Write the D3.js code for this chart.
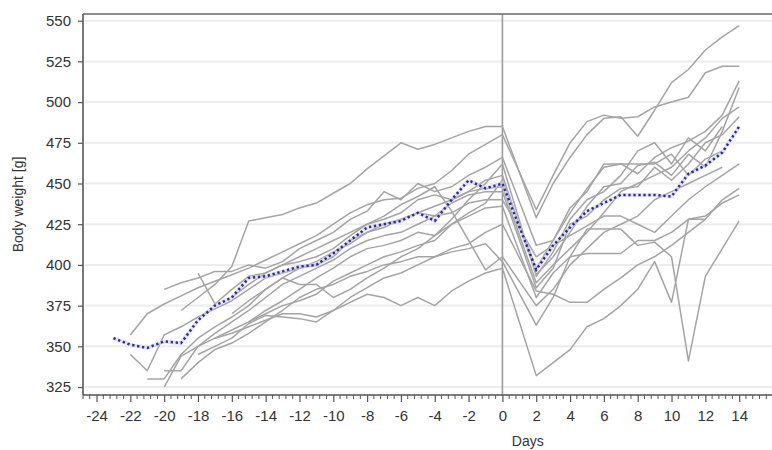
<!DOCTYPE html>
<html>
<head>
<meta charset="utf-8">
<script src="https://cdn.jsdelivr.net/npm/d3@7"></script>
<style>
  html, body { margin: 0; padding: 0; background: #fff; }
  svg { display: block; }
</style>
</head>
<body>
<svg id="chart" width="772" height="450"></svg>
<script>
// Individual body-weight curves (g) per animal: pre-operative days start..0, then post-operative days
const animalStartDays = [-19, -22, -20, -18, -22, -21, -20, -20, -19, -18, -17, -16, -15, -16];

const preWeights = [
  [372, 380, 388, 399, 427, 429, 431, 435, 438, 444, 450, 459, 467, 475, 471, 474, 478, 482, 485, 485],
  [357, 370, 376, 381, 386, 390, 394, 398, 403, 408, 413, 418, 425, 432, 437, 440, 441, 447, 450, 458, 468, 474, 480],
  [385, 389, 392, 396, 396, 400, 398, 402, 410, 415, 420, 428, 433, 445, 440, 450, 445, 448, 455, 460, 466],
  [395, 376, 385, 393, 395, 400, 405, 410, 415, 420, 425, 428, 432, 440, 443, 440, 445, 452, 455],
  [345, 335, 357, 362, 368, 373, 378, 385, 392, 395, 398, 402, 408, 413, 420, 425, 428, 432, 436, 440, 445, 447, 448],
  [330, 330, 345, 355, 362, 368, 375, 385, 392, 398, 400, 405, 415, 420, 423, 428, 432, 430, 438, 443, 445, 445],
  [335, 335, 350, 358, 365, 372, 380, 388, 393, 398, 403, 410, 415, 418, 420, 425, 430, 432, 438, 440, 440],
  [325, 344, 350, 355, 360, 365, 370, 375, 378, 382, 390, 395, 400, 405, 408, 412, 415, 425, 430, 435, 436],
  [330, 340, 348, 352, 358, 365, 372, 380, 385, 388, 393, 396, 400, 402, 405, 405, 410, 413, 420, 425],
  [345, 350, 355, 364, 369, 368, 367, 365, 372, 377, 382, 380, 375, 380, 375, 384, 390, 395, 398],
  [355, 358, 362, 366, 370, 370, 368, 372, 380, 386, 392, 395, 400, 405, 408, 410, 413, 402],
  [380, 388, 395, 400, 402, 405, 410, 418, 425, 430, 437, 442, 448, 433, 415, 397, 405],
  [365, 372, 378, 385, 392, 398, 405, 410, 412, 415, 420, 418, 425, 432, 438, 452],
  [370, 378, 385, 392, 388, 388, 380, 385, 392, 398, 405, 410, 418, 428, 440, 450, 462]
];

const postDays = [2, 3, 4, 5, 6, 7, 8, 9, 10, 11, 12, 13, 14];

const postWeights = [
  [429, 450, 466, 480, 490, 491, 479, 495, 512, 520, 532, 540, 547],
  [434, 455, 475, 488, 492, 490, 491, 497, 500, 503, 518, 522, 522],
  [412, 415, 432, 447, 460, 462, 456, 466, 472, 476, 482, 492, 513],
  [394, 405, 420, 436, 448, 450, 461, 463, 455, 468, 460, 482, 509],
  [389, 400, 410, 420, 432, 445, 450, 455, 460, 470, 478, 490, 497],
  [386, 398, 425, 430, 440, 447, 448, 460, 452, 462, 475, 480, 491],
  [405, 412, 418, 424, 430, 430, 425, 420, 430, 440, 448, 455, 462],
  [380, 395, 405, 407, 407, 407, 415, 415, 420, 428, 428],
  [384, 382, 377, 377, 385, 392, 400, 405, 412, 420, 428, 440, 447],
  [332, 340, 348, 362, 367, 375, 385, 402, 377, 428, 430, 438, 443],
  [363, 380, 405, 422, 422, 422, 412, 414, 405, 341, 393, 410, 427],
  [375, 385, 400, 410, 420, 425, 430, 440, 445, 450, 455, 460],
  [398, 415, 435, 445, 462, 462, 462, 462, 468, 455, 465, 470],
  [393, 408, 428, 440, 445, 455, 470, 475, 462, 478, 470, 485]
];

// Group mean
const meanDays = [-23, -22, -21, -20, -19, -18, -17, -16, -15, -14, -13, -12, -11, -10, -9, -8, -7, -6, -5, -4, -3, -2, -1, 0,
                  2, 3, 4, 5, 6, 7, 8, 9, 10, 11, 12, 13, 14];
const meanWeights = [355, 351, 349, 353, 352, 366, 375, 380, 392, 393, 396, 399, 400, 407, 415, 423, 425, 427, 432, 427, 440, 452, 447, 450,
                     397, 412, 423, 433, 438, 443, 443, 443, 442, 456, 461, 469, 485];

const yTicks = [325, 350, 375, 400, 425, 450, 475, 500, 525, 550];
const xTicks = [-24, -22, -20, -18, -16, -14, -12, -10, -8, -6, -4, -2, 0, 2, 4, 6, 8, 10, 12, 14];

const svg = d3.select("#chart");
const plotLeft = 83, plotRight = 773, plotTop = 14, plotBottom = 395;
const font = "'Liberation Sans', Arial, sans-serif";

const x = d3.scaleLinear().domain([-24.8, 16]).range([plotLeft, plotRight]);
const y = d3.scaleLinear().domain([320.1, 554.1]).range([plotBottom, plotTop]);

// horizontal grid
svg.append("g")
  .selectAll("line")
  .data(yTicks)
  .join("line")
  .attr("x1", plotLeft + 2).attr("x2", plotRight)
  .attr("y1", d => y(d)).attr("y2", d => y(d))
  .attr("stroke", "#ececec")
  .attr("stroke-width", 2);

// surgery day reference
svg.append("line")
  .attr("x1", x(0)).attr("x2", x(0))
  .attr("y1", plotTop).attr("y2", plotBottom)
  .attr("stroke", "#9a9a9a")
  .attr("stroke-width", 1.6);

const line = d3.line().x(d => x(d[0])).y(d => y(d[1]));

const animals = preWeights.map((pre, i) => {
  const pts = pre.map((w, k) => [animalStartDays[i] + k, w]);
  postWeights[i].forEach((w, k) => pts.push([postDays[k], w]));
  return pts;
});

svg.append("g")
  .selectAll("path")
  .data(animals)
  .join("path")
  .attr("d", line)
  .attr("fill", "none")
  .attr("stroke", "#a4a4a4")
  .attr("stroke-width", 1.5)
  .attr("stroke-linejoin", "round");

// mean curve: soft underlay plus dotted line
const meanPts = meanDays.map((d, i) => [d, meanWeights[i]]);
svg.append("path")
  .attr("d", line(meanPts))
  .attr("fill", "none")
  .attr("stroke", "#cfcfee")
  .attr("stroke-width", 4)
  .attr("stroke-opacity", 0.55);
svg.append("path")
  .attr("d", line(meanPts))
  .attr("fill", "none")
  .attr("stroke", "#2c2c9c")
  .attr("stroke-width", 2.5)
  .attr("stroke-dasharray", "2.3,2.7");

// axes
const yAxis = d3.axisLeft(y).tickValues(yTicks).tickSize(5).tickPadding(7).tickFormat(d => String(d));
const gy = svg.append("g").attr("transform", `translate(${plotLeft},0)`).call(yAxis);
gy.select(".domain").remove();

const minor = d3.range(-24.8, 16.01, 0.4).map(v => +v.toFixed(1)).filter(v => Math.abs(v / 2 - Math.round(v / 2)) > 1e-6);
svg.append("g")
  .selectAll("line")
  .data(minor)
  .join("line")
  .attr("x1", d => x(d)).attr("x2", d => x(d))
  .attr("y1", plotBottom).attr("y2", plotBottom + 4)
  .attr("stroke", "#555").attr("stroke-width", 1);

const xAxis = d3.axisBottom(x).tickValues(xTicks).tickSize(7).tickPadding(8).tickFormat(d => String(d));
const gx = svg.append("g").attr("transform", `translate(0,${plotBottom})`).call(xAxis);
gx.select(".domain").remove();

[gx, gy].forEach(g => {
  g.selectAll(".tick line").attr("stroke", "#555").attr("stroke-width", 1.2);
  g.selectAll(".tick text")
    .attr("fill", "#333")
    .style("font-family", font)
    .style("font-size", "15px");
});

// frame lines
svg.append("line").attr("x1", plotLeft).attr("x2", plotLeft).attr("y1", plotTop).attr("y2", plotBottom)
  .attr("stroke", "#555").attr("stroke-width", 1.6);
svg.append("line").attr("x1", plotLeft).attr("x2", plotRight).attr("y1", plotTop).attr("y2", plotTop)
  .attr("stroke", "#666").attr("stroke-width", 1.4);
svg.append("line").attr("x1", plotLeft).attr("x2", plotRight).attr("y1", plotBottom).attr("y2", plotBottom)
  .attr("stroke", "#555").attr("stroke-width", 1.6);

// titles
svg.append("text")
  .attr("x", x(1.5)).attr("y", 446)
  .attr("text-anchor", "middle")
  .attr("fill", "#333")
  .style("font-family", font)
  .style("font-size", "14px")
  .text("Days");

svg.append("text")
  .attr("transform", `translate(23,${(plotTop + plotBottom) / 2}) rotate(-90)`)
  .attr("text-anchor", "middle")
  .attr("fill", "#333")
  .style("font-family", font)
  .style("font-size", "14px")
  .text("Body weight [g]");
</script>
</body>
</html>
